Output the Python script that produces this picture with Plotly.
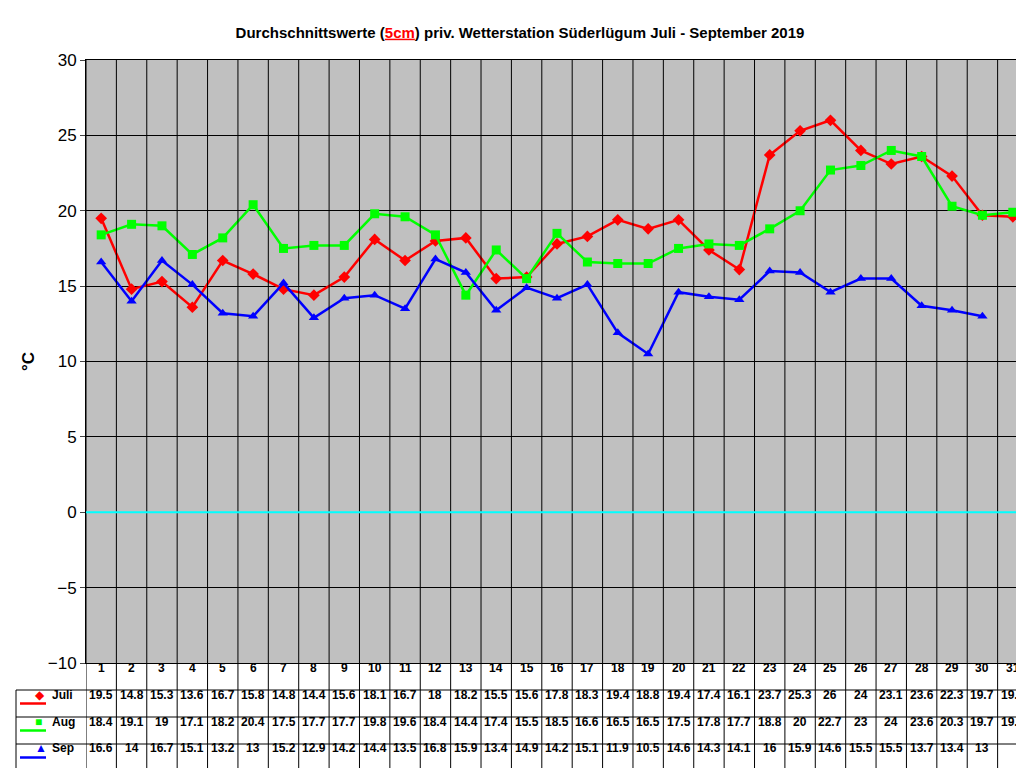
import plotly.graph_objects as go

days = list(range(1, 32))
juli = [19.5, 14.8, 15.3, 13.6, 16.7, 15.8, 14.8, 14.4, 15.6, 18.1, 16.7, 18, 18.2, 15.5, 15.6, 17.8,
        18.3, 19.4, 18.8, 19.4, 17.4, 16.1, 23.7, 25.3, 26, 24, 23.1, 23.6, 22.3, 19.7, 19.6]
aug = [18.4, 19.1, 19, 17.1, 18.2, 20.4, 17.5, 17.7, 17.7, 19.8, 19.6, 18.4, 14.4, 17.4, 15.5, 18.5,
       16.6, 16.5, 16.5, 17.5, 17.8, 17.7, 18.8, 20, 22.7, 23, 24, 23.6, 20.3, 19.7, 19.9]
sep = [16.6, 14, 16.7, 15.1, 13.2, 13, 15.2, 12.9, 14.2, 14.4, 13.5, 16.8, 15.9, 13.4, 14.9, 14.2,
       15.1, 11.9, 10.5, 14.6, 14.3, 14.1, 16, 15.9, 14.6, 15.5, 15.5, 13.7, 13.4, 13]

series = [
    ("Juli", juli, "#FF0000", "diamond", "◆"),
    ("Aug", aug, "#00FF00", "square", "■"),
    ("Sep", sep, "#0000FF", "triangle-up", "▲"),
]

W, H = 1024, 768
L, R, T, B = 78, 4, 52, 113
pw, ph = W - L - R, H - T - B
row_h = 27 / ph
left_px = 70 / pw

fig = go.Figure()
for name, vals, col, sym, _ in series:
    fig.add_trace(go.Scatter(
        x=days[:len(vals)], y=vals, mode="lines+markers", name=name,
        line=dict(color=col, width=2.5),
        marker=dict(symbol=sym, size=9, color=col),
        showlegend=False,
    ))

shapes = []
# vertical separators through plot and table
for i in range(0, 32):
    shapes.append(dict(type="line", xref="x", yref="paper", x0=i + 0.5, x1=i + 0.5,
                       y0=-4 * row_h, y1=1, line=dict(color="black", width=1)))
# horizontal table lines
for r in range(1, 5):
    x0 = -left_px if r >= 1 else 0
    shapes.append(dict(type="line", xref="paper", yref="paper", x0=x0, x1=1,
                       y0=-r * row_h, y1=-r * row_h, line=dict(color="black", width=1)))
shapes.append(dict(type="line", xref="paper", yref="paper", x0=-left_px, x1=-left_px,
                   y0=-4 * row_h, y1=-row_h, line=dict(color="black", width=1)))
# zero line
shapes.append(dict(type="line", xref="paper", yref="y", x0=0, x1=1, y0=0, y1=0,
                   line=dict(color="#00FFFF", width=2)))

ann = []
for d in days:
    ann.append(dict(x=d, y=-0.5 * row_h, xref="x", yref="paper", text=f"<b>{d}</b>",
                    showarrow=False, font=dict(size=12)))
for r, (name, vals, col, sym, glyph) in enumerate(series, start=1):
    yc = -(r + 0.5) * row_h
    for d, v in zip(days, vals):
        ann.append(dict(x=d, y=yc, xref="x", yref="paper", text=f"<b>{v:g}</b>",
                        showarrow=False, font=dict(size=12)))
    shapes.append(dict(type="line", xref="paper", yref="paper", x0=-left_px + 4 / pw,
                       x1=-left_px + 30 / pw, y0=yc, y1=yc, line=dict(color=col, width=2.5)))
    ann.append(dict(x=-left_px + 17 / pw, y=yc, xref="paper", yref="paper", text=glyph,
                    showarrow=False, font=dict(size=12, color=col)))
    ann.append(dict(x=-left_px + 34 / pw, y=yc, xref="paper", yref="paper", text=f"<b>{name}</b>",
                    showarrow=False, xanchor="left", font=dict(size=12)))

fig.update_layout(
    width=W, height=H,
    margin=dict(l=L, r=R, t=T, b=B),
    paper_bgcolor="white", plot_bgcolor="#C0C0C0",
    font=dict(family="Arial, Liberation Sans", color="black"),
    title=dict(text="<b>Durchschnittswerte (<span style='color:red'><u>5cm</u></span>) priv. Wetterstation Süderlügum Juli - September 2019</b>",
               x=0.5, xanchor="center", y=0.975, font=dict(size=15)),
    shapes=shapes, annotations=ann,
)
fig.update_xaxes(range=[0.5, 31.5], showticklabels=False, showgrid=False, zeroline=False,
                 showline=True, linecolor="black", mirror=True)
fig.update_yaxes(range=[-10, 30], dtick=5, showgrid=True, gridcolor="black", zeroline=False,
                 showline=True, linecolor="black", mirror=True, ticks="outside",
                 tickfont=dict(size=17, family="Arial, Liberation Sans"),
                 title=dict(text="<b>°C</b>", font=dict(size=17), standoff=8))
fig.write_html("out.html")
